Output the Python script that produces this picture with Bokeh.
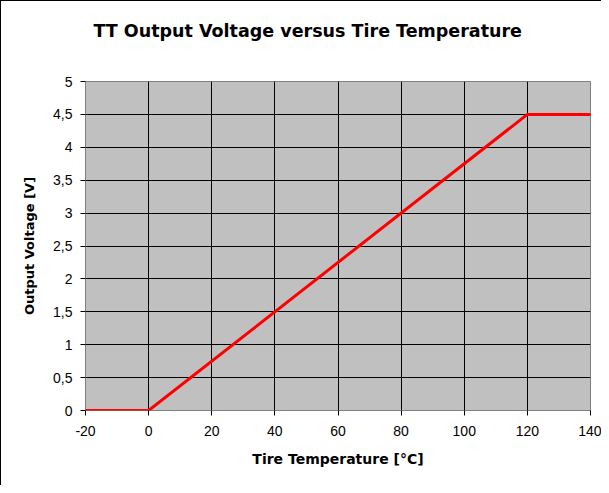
from bokeh.plotting import figure
from bokeh.models import FixedTicker, Range1d, Title
from bokeh.embed import file_html
from bokeh.resources import INLINE

# Data
temperature = [-20, 0, 120, 140]
voltage = [0, 0, 4.5, 4.5]
x_ticks = [-20, 0, 20, 40, 60, 80, 100, 120, 140]
x_tick_labels = ["-20", "0", "20", "40", "60", "80", "100", "120", "140"]
y_ticks = [0, 0.5, 1, 1.5, 2, 2.5, 3, 3.5, 4, 4.5, 5]
y_tick_labels = ["0", "0,5", "1", "1,5", "2", "2,5", "3", "3,5", "4", "4,5", "5"]
title_text = "TT Output Voltage versus Tire Temperature"

p = figure(width=601, height=485, output_backend="svg", toolbar_location=None,
           title=None,
           x_range=Range1d(-20, 140), y_range=Range1d(0, 5),
           min_border_left=84, min_border_right=12, min_border_top=10, min_border_bottom=76)

p.styles = {"border-left": "1px solid #000000", "border-top": "1px solid #000000"}
p.background_fill_color = "#C0C0C0"
p.border_fill_color = "white"
p.outline_line_color = "#808080"
p.outline_line_width = 1

font = "Liberation Sans"
bold_font = "DejaVu Sans"

# spacer between title and plot frame
p.add_layout(Title(text=" ", text_font_size="1px", standoff=21), "above")
# main title (added later -> placed further from the frame)
p.add_layout(Title(text=title_text, text_font=bold_font, text_font_size="17.5px",
                   text_font_style="bold", text_color="black", align="left",
                   offset=8, standoff=34), "above")

p.line(temperature, voltage, line_color="#FF0000", line_width=3)

for ax in (p.xaxis[0], p.yaxis[0]):
    ax.axis_line_color = None
    ax.major_tick_line_color = "black"
    ax.major_tick_out = 5
    ax.major_tick_in = 0
    ax.minor_tick_line_color = None
    ax.major_label_text_font = font
    ax.major_label_text_font_size = "14px"
    ax.major_label_text_color = "black"
    ax.axis_label_text_font = bold_font
    ax.axis_label_text_font_style = "bold"
    ax.axis_label_text_color = "black"

p.xaxis.axis_label_text_font_size = "14px"
p.yaxis.axis_label_text_font_size = "13px"
p.xaxis.ticker = FixedTicker(ticks=x_ticks)
p.yaxis.ticker = FixedTicker(ticks=y_ticks)
p.xaxis.major_label_overrides = {t: l for t, l in zip(x_ticks, x_tick_labels)}
p.yaxis.major_label_overrides = {t: l for t, l in zip(y_ticks, y_tick_labels)}
p.xaxis.axis_label = "Tire Temperature [°C]"
p.yaxis.axis_label = "Output Voltage [V]"
p.xaxis.major_label_standoff = 10
p.xaxis.axis_label_standoff = 12
p.yaxis.major_label_standoff = 8
p.yaxis.axis_label_standoff = 13

p.xgrid.ticker = FixedTicker(ticks=x_ticks[1:-1])
p.ygrid.ticker = FixedTicker(ticks=y_ticks[1:-1])
p.xgrid.grid_line_color = "black"
p.ygrid.grid_line_color = "black"
p.xgrid.grid_line_width = 1
p.ygrid.grid_line_width = 1

open("out.html", "w").write(file_html(p, INLINE))
